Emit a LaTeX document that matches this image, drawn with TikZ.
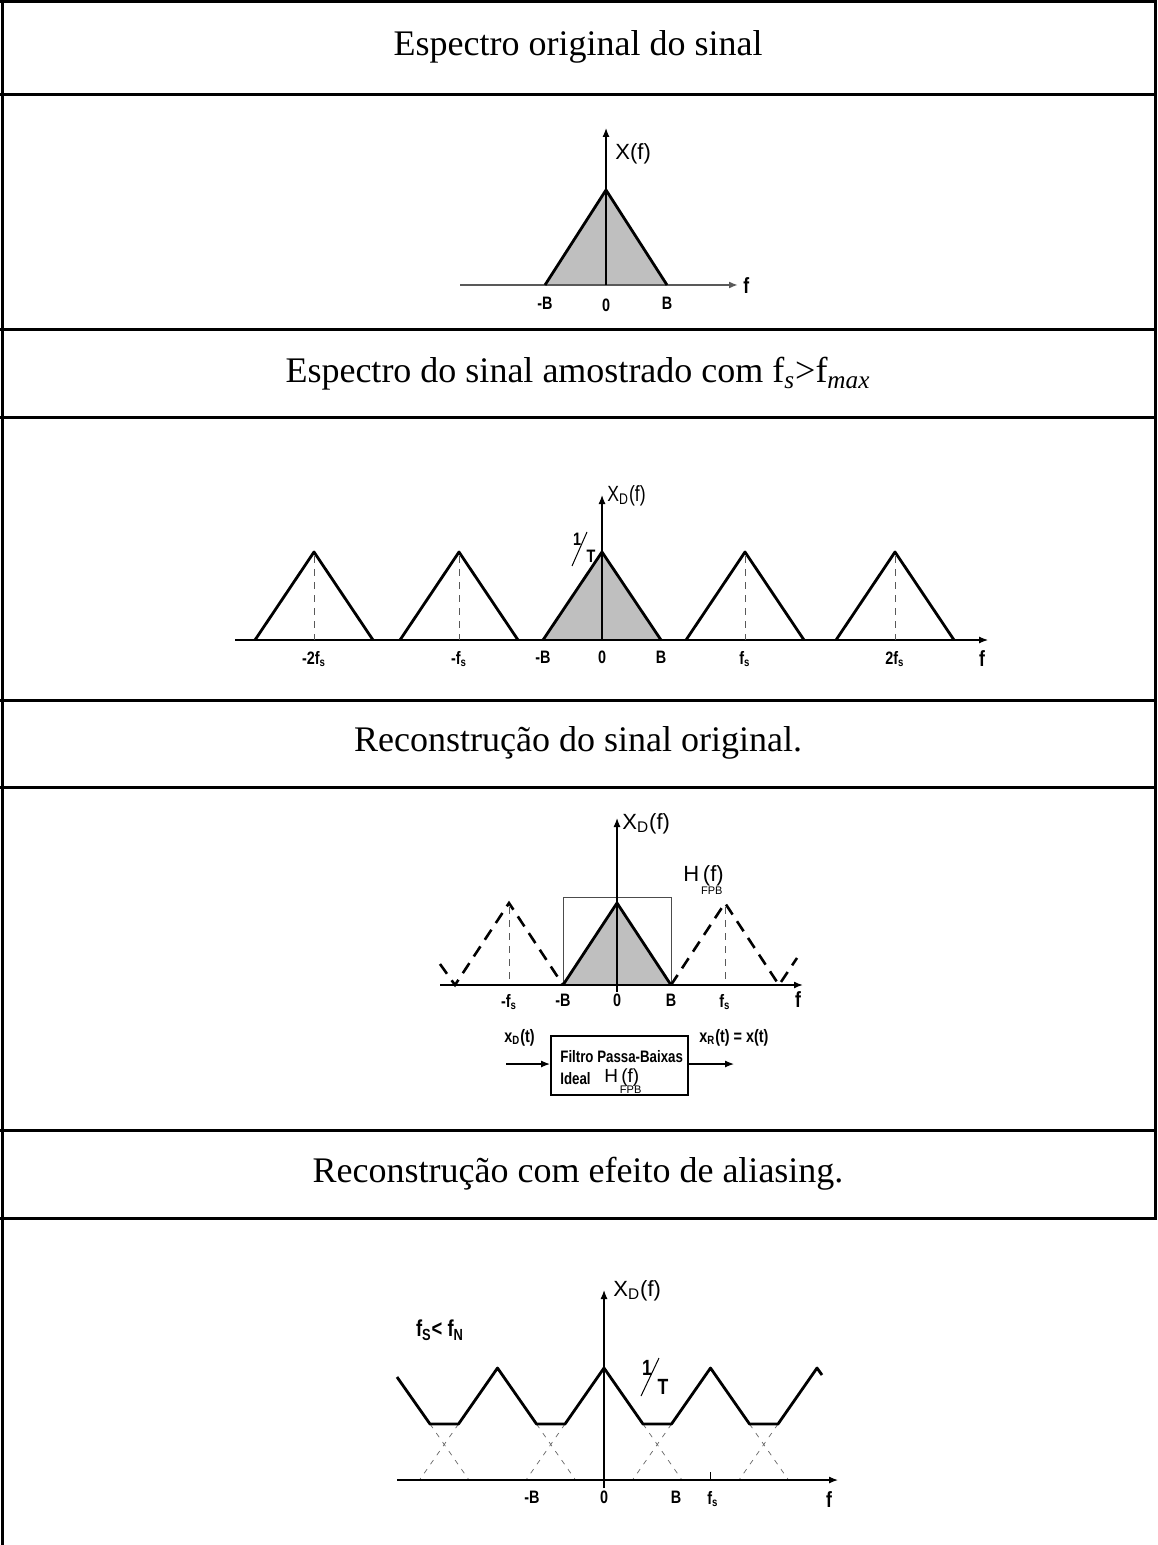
\documentclass[tikz,border=0pt]{standalone}
\usepackage{fontspec}
\setmainfont{Liberation Serif}
\newfontfamily\lblfont[FakeStretch=0.8]{Liberation Sans}
\newfontfamily\axfont{Liberation Sans}
\usetikzlibrary{arrows.meta}
\newcommand{\Hfpb}{H\rlap{\raisebox{-0.6em}{\fontsize{5.5}{6}\selectfont\,FPB}}\,(f)}
\begin{document}
\begin{tikzpicture}[x=0.5pt, y=-0.5pt,
  tabline/.style={line width=1.5pt},
  title/.style={font=\fontsize{18}{20}\selectfont, inner sep=0pt},
  lbl/.style={font=\lblfont\bfseries\fontsize{9}{10}\selectfont, inner sep=0.5pt},
  lblm/.style={font=\axfont\fontsize{11}{12}\selectfont, inner sep=0.5pt},
  axisline/.style={line width=0.6pt, -{Latex[length=4.5pt,width=3.5pt]}},
  tri/.style={line width=1.4pt, line join=round},
  dtri/.style={line width=1.3pt, dash pattern=on 6pt off 4pt},
  guide/.style={line width=0.45pt, gray!70!black, dash pattern=on 3.5pt off 3pt},
  alias/.style={line width=0.35pt, gray!80!black, dash pattern=on 2.5pt off 3pt},
  slash/.style={line width=0.5pt},
  spec/.style={fill=black!25}]
% table frame and row titles
\useasboundingbox (0,0) rectangle (1157,1545);
\foreach \y in {2,95,330,418,700,787,1130,1218}
  \draw[tabline] (0,\y) -- (1157,\y);
\draw[tabline] (2,0) -- (2,1545);
\draw[tabline] (1155,0) -- (1155,1218);
\node[title] (tit1) at (578,47) {Espectro original do sinal};
\node[title] (tit2) at (578,374) {Espectro do sinal amostrado com f\textsubscript{\textit{s}}>f\textsubscript{\textit{max}}};
\node[title] (tit3) at (578,743) {Reconstrução do sinal original.};
\node[title] (tit4) at (578,1174) {Reconstrução com efeito de aliasing.};

% original spectrum
\fill[spec] (545,285) -- (606,190) -- (667,285) -- cycle;
\draw[axisline, gray!70!black, line width=0.9pt] (460,285) -- (738,285);
\draw[axisline] (606,285) -- (606,128);
\draw[tri] (545,285) -- (606,190) -- (667,285);
\node[lblm, anchor=west] (xf1) at (614,154) {X(f)};
\node[lbl, anchor=west] (f1) at (742,286) {\fontsize{11}{11}\selectfont f};
\node[lbl] (mb1) at (545,303) {-B};
\node[lbl] (z1) at (606,305) {0};
\node[lbl] (b1) at (667,303) {B};

% sampled spectrum
\fill[spec] (543,640) -- (602,552) -- (661,640) -- cycle;
\draw[axisline] (235,640) -- (988,640);
\draw[axisline] (602,640) -- (602,495);
\draw[tri] (543,640) -- (602,552) -- (661,640);
\foreach \c in {314,459,745,895} {
  \draw[tri] (\c-59,640) -- (\c,552) -- (\c+59,640);
  \draw[guide] (\c,556) -- (\c,640);
}
\node[lblm, anchor=west, font=\lblfont\fontsize{11}{12}\selectfont] (xd2) at (606,496) {X\textsubscript{D}(f)};
\node[lbl] (one2) at (577,539) {1};
\node[lbl] (tee2) at (591,556) {T};
\draw[slash] (572,566) -- (587,532);
\foreach \c/\t in {314/-2f\textsubscript{s}, 459/-f\textsubscript{s}, 543/-B, 602/0, 661/B, 745/f\textsubscript{s}, 895/2f\textsubscript{s}}
  \node[lbl, anchor=north] at (\c,650) {\t};
\node[lbl] (f2) at (982,659) {\fontsize{11}{11}\selectfont f};

% reconstruction
\fill[spec] (563,985) -- (617,903) -- (671,985) -- cycle;
\draw[line width=0.5pt, gray!60!black] (563,985) rectangle (671,897);
\draw[axisline, line width=0.8pt] (440,985) -- (803,985);
\draw[axisline] (617,992) -- (617,818);
\draw[tri] (563,985) -- (617,903) -- (671,985);
\draw[dtri] (440,964) -- (455,985) -- (509,903) -- (563,985);
\draw[dtri] (671,985) -- (725,903) -- (779,985) -- (797,958);
\draw[guide] (509,907) -- (509,985);
\draw[guide] (725,907) -- (725,985);
\node[lblm, anchor=west] (xd3) at (621,824) {X\textsubscript{D}(f)};
\node[lblm, anchor=west] (h3) at (682,880) {\Hfpb};
\foreach \c/\t in {509/-f\textsubscript{s}, 563/-B, 617/0, 671/B, 725/f\textsubscript{s}}
  \node[lbl, anchor=north] at (\c,993) {\t};
\node[lbl] (f3) at (798,1000) {\fontsize{11}{11}\selectfont f};

% filter block
\node[draw, line width=1pt, minimum width=68.5pt, minimum height=29.5pt, inner sep=0pt] (filt) at (619.5,1065.5) {};
\node[lbl, anchor=north west, font=\lblfont\bfseries\fontsize{8.3}{9}\selectfont] (ft) at (559,1049) {Filtro Passa-Baixas};
\node[lbl, anchor=north west, font=\lblfont\bfseries\fontsize{8.3}{9}\selectfont] (fi) at (559,1071) {Ideal};
\node[lblm, anchor=north west, font=\axfont\fontsize{9.5}{10}\selectfont] (fh) at (603,1067) {\Hfpb};
\coordinate (xin) at (506,1064);
\coordinate (xout) at (734,1064);
\draw[axisline] (xin) -- (xin -| filt.west);
\draw[axisline] (xout -| filt.east) -- (xout);
\node[lbl, anchor=south west] (xdl) at (503,1048) {x\textsubscript{D}(t)};
\node[lbl, anchor=south west] (xrl) at (698,1048) {x\textsubscript{R}(t) = x(t)};

% aliasing
\foreach \c in {391,497.5,604,710.5} {
  \draw[alias] (\c+39,1424) -- (\c+78,1480);
  \draw[alias] (\c+67.5,1424) -- (\c+28.5,1480);
}
\draw[axisline] (397,1480) -- (838,1480);
\draw[axisline] (604,1488) -- (604,1290);
\draw[line width=0.5pt] (710.5,1472) -- (710.5,1480);
\draw[tri] (397,1377) -- (430,1424) -- (458.5,1424) -- (497.5,1368) -- (536.5,1424) -- (565,1424) -- (604,1368) -- (643,1424) -- (671.5,1424) -- (710.5,1368) -- (749.5,1424) -- (778,1424) -- (817,1368) -- (822,1375);
\node[lblm, anchor=west] (xd4) at (612,1291) {X\textsubscript{D}(f)};
\node[lbl] (fn4) at (440,1330) {\fontsize{11.5}{12}\selectfont f\textsubscript{S}< f\textsubscript{N}};
\node[lbl, font=\lblfont\bfseries\fontsize{11}{11}\selectfont] (one4) at (647,1368) {1};
\node[lbl, font=\lblfont\bfseries\fontsize{11}{11}\selectfont] (tee4) at (663,1387) {T};
\draw[slash] (641,1396) -- (659,1358);
\foreach \c/\t in {532/-B, 604/0, 676/B, 713/f\textsubscript{s}}
  \node[lbl, anchor=north] at (\c,1490) {\t};
\node[lbl] (f4) at (829,1500) {\fontsize{11}{11}\selectfont f};
\end{tikzpicture}
\end{document}
